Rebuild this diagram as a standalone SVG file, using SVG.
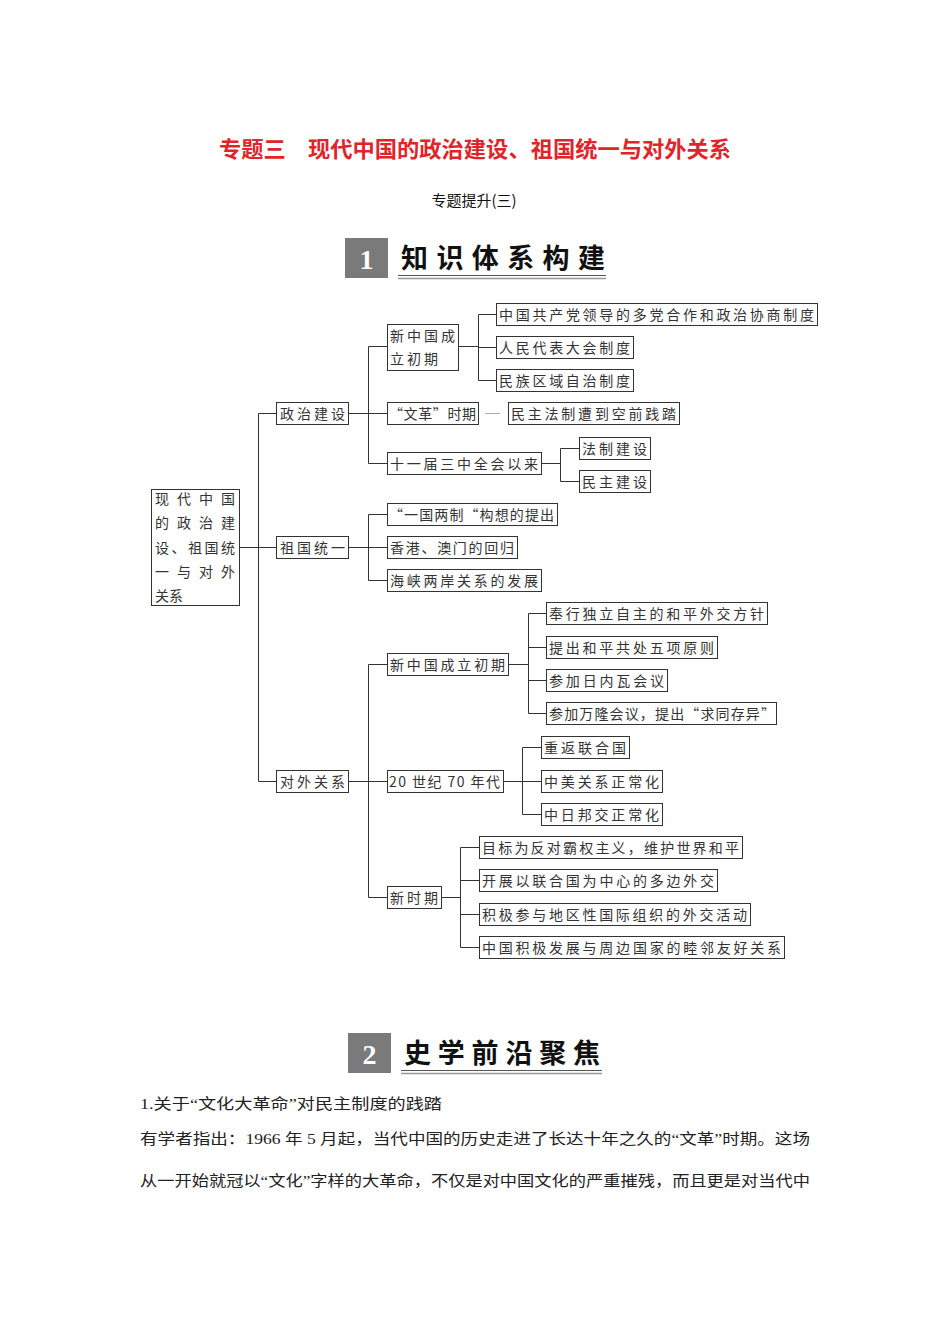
<svg xmlns="http://www.w3.org/2000/svg" width="950" height="1344" viewBox="0 0 950 1344">
<style>
.bx{fill:#fff;stroke:#333;stroke-width:1}
.t{font-family:"Noto Sans CJK SC","Liberation Serif",serif;font-size:14px;fill:#333;dominant-baseline:central}
.ln{fill:none;stroke:#333;stroke-width:1}
.ban{font-family:"Noto Sans CJK SC",sans-serif;font-size:27px;font-weight:bold;fill:#111;dominant-baseline:central}
.num{font-family:"Liberation Serif",serif;font-size:28px;font-weight:bold;fill:#fff;text-anchor:middle;dominant-baseline:central}
.body{font-family:"Liberation Serif","Noto Sans CJK SC",serif;font-size:15px;fill:#222;dominant-baseline:central}
</style>
<rect width="950" height="1344" fill="#fff"/>
<text x="475" y="147" text-anchor="middle" font-family="Noto Sans CJK SC,sans-serif" font-size="22" font-weight="bold" fill="#e0242a" dominant-baseline="central" textLength="512" lengthAdjust="spacingAndGlyphs">专题三　现代中国的政治建设、祖国统一与对外关系</text>
<text x="474" y="199" text-anchor="middle" font-family="Noto Sans CJK SC,sans-serif" font-size="15" fill="#111" dominant-baseline="central">专题提升(三)</text>
<g id="banner1">
<rect x="345" y="238" width="43" height="40" fill="#7a7a7a"/>
<text class="num" x="366.5" y="259">1</text>
<text class="ban" x="401" y="256" textLength="204" lengthAdjust="spacing">知识体系构建</text>
<line x1="398" y1="275.5" x2="606" y2="275.5" stroke="#555" stroke-width="1"/>
<line x1="398" y1="278.5" x2="606" y2="278.5" stroke="#999" stroke-width="1.5"/>
</g>
<g id="connectors">
<path class="ln" d="M239.5 547.5H258.5M258.5 413.5V781.5M258.5 413.5H276.5M258.5 547.5H276.5M258.5 781.5H276.5"/>
<path class="ln" d="M348.5 413.5H368.5M368.5 346.5V463.5M368.5 346.5H387.5M368.5 413.5H387.5M368.5 463.5H387.5"/>
<path class="ln" d="M458.5 346.5H478.5M478.5 314.5V380.5M478.5 314.5H496.5M478.5 347.5H496.5M478.5 380.5H496.5"/>
<path d="M485 413.5H500" stroke="#aaa" stroke-width="1"/>
<path class="ln" d="M541.5 463.5H560.5M560.5 448.5V481.5M560.5 448.5H579.5M560.5 481.5H579.5"/>
<path class="ln" d="M348.5 547.5H368.5M368.5 514.5V580.5M368.5 514.5H387.5M368.5 547.5H387.5M368.5 580.5H387.5"/>
<path class="ln" d="M348.5 781.5H368.5M368.5 664.5V897.5M368.5 664.5H387.5M368.5 781.5H387.5M368.5 897.5H387.5"/>
<path class="ln" d="M508.5 664.5H528.5M528.5 613.5V713.5M528.5 613.5H546.5M528.5 647.5H546.5M528.5 680.5H546.5M528.5 713.5H546.5"/>
<path class="ln" d="M503.5 781.5H522.5M522.5 747.5V814.5M522.5 747.5H541.5M522.5 781.5H541.5M522.5 814.5H541.5"/>
<path class="ln" d="M441.5 897.5H460.5M460.5 847.5V947.5M460.5 847.5H479.5M460.5 880.5H479.5M460.5 914.5H479.5M460.5 947.5H479.5"/>
</g>
<g id="root">
<rect class="bx" x="151.5" y="489.5" width="88" height="116"/>
<text class="t" x="155" y="498" textLength="80" lengthAdjust="spacing">现代中国</text>
<text class="t" x="155" y="522" textLength="80" lengthAdjust="spacing">的政治建</text>
<text class="t" x="155" y="547" textLength="80" lengthAdjust="spacing">设、祖国统</text>
<text class="t" x="155" y="571" textLength="80" lengthAdjust="spacing">一与对外</text>
<text class="t" x="155" y="595">关系</text>
</g>
<g id="n-zzjs"><rect class="bx" x="276.5" y="402.5" width="72" height="22"/><text class="t" x="280" y="413" textLength="65" lengthAdjust="spacing">政治建设</text></g>
<g id="n-zgty"><rect class="bx" x="276.5" y="536.5" width="72" height="22"/><text class="t" x="280" y="547" textLength="65" lengthAdjust="spacing">祖国统一</text></g>
<g id="n-dwgx"><rect class="bx" x="276.5" y="770.5" width="72" height="22"/><text class="t" x="280" y="781" textLength="65" lengthAdjust="spacing">对外关系</text></g>
<g id="n-xzg1"><rect class="bx" x="387.5" y="324.5" width="71" height="46"/><text class="t" x="390" y="335" textLength="65" lengthAdjust="spacing">新中国成</text><text class="t" x="390" y="358" textLength="48" lengthAdjust="spacing">立初期</text></g>
<g id="n-wg"><rect class="bx" x="387.5" y="402.5" width="91" height="22"/><text class="t" x="389" y="413" textLength="87" lengthAdjust="spacing">“文革”时期</text></g>
<g id="n-sy"><rect class="bx" x="387.5" y="452.5" width="154" height="22"/><text class="t" x="390" y="463" textLength="148" lengthAdjust="spacing">十一届三中全会以来</text></g>
<g id="n-a1"><rect class="bx" x="496.5" y="303.5" width="321" height="22"/><text class="t" x="499" y="314" textLength="315" lengthAdjust="spacing">中国共产党领导的多党合作和政治协商制度</text></g>
<g id="n-a2"><rect class="bx" x="496.5" y="336.5" width="137" height="22"/><text class="t" x="499" y="347" textLength="131" lengthAdjust="spacing">人民代表大会制度</text></g>
<g id="n-a3"><rect class="bx" x="496.5" y="369.5" width="137" height="22"/><text class="t" x="499" y="380" textLength="131" lengthAdjust="spacing">民族区域自治制度</text></g>
<g id="n-wg1"><rect class="bx" x="508.5" y="402.5" width="171" height="22"/><text class="t" x="511" y="413" textLength="165" lengthAdjust="spacing">民主法制遭到空前践踏</text></g>
<g id="n-fz"><rect class="bx" x="579.5" y="437.5" width="71" height="22"/><text class="t" x="582" y="448" textLength="65" lengthAdjust="spacing">法制建设</text></g>
<g id="n-mz"><rect class="bx" x="579.5" y="470.5" width="71" height="22"/><text class="t" x="582" y="481" textLength="65" lengthAdjust="spacing">民主建设</text></g>
<g id="n-b1"><rect class="bx" x="387.5" y="503.5" width="170" height="22"/><text class="t" x="389" y="514" textLength="165" lengthAdjust="spacing">“一国两制“构想的提出</text></g>
<g id="n-b2"><rect class="bx" x="387.5" y="536.5" width="130" height="22"/><text class="t" x="390" y="547" textLength="124" lengthAdjust="spacing">香港、澳门的回归</text></g>
<g id="n-b3"><rect class="bx" x="387.5" y="569.5" width="154" height="22"/><text class="t" x="390" y="580" textLength="148" lengthAdjust="spacing">海峡两岸关系的发展</text></g>
<g id="n-c1"><rect class="bx" x="387.5" y="653.5" width="121" height="22"/><text class="t" x="390" y="664" textLength="115" lengthAdjust="spacing">新中国成立初期</text></g>
<g id="n-c2"><rect class="bx" x="387.5" y="770.5" width="116" height="22"/><text class="t" x="389" y="781" textLength="111" lengthAdjust="spacing">20 世纪 70 年代</text></g>
<g id="n-c3"><rect class="bx" x="387.5" y="886.5" width="54" height="22"/><text class="t" x="390" y="897" textLength="48" lengthAdjust="spacing">新时期</text></g>
<g id="n-d1"><rect class="bx" x="546.5" y="602.5" width="221" height="22"/><text class="t" x="549" y="613" textLength="215" lengthAdjust="spacing">奉行独立自主的和平外交方针</text></g>
<g id="n-d2"><rect class="bx" x="546.5" y="636.5" width="171" height="22"/><text class="t" x="549" y="647" textLength="165" lengthAdjust="spacing">提出和平共处五项原则</text></g>
<g id="n-d3"><rect class="bx" x="546.5" y="669.5" width="121" height="22"/><text class="t" x="549" y="680" textLength="115" lengthAdjust="spacing">参加日内瓦会议</text></g>
<g id="n-d4"><rect class="bx" x="546.5" y="702.5" width="230" height="22"/><text class="t" x="549" y="713" textLength="226" lengthAdjust="spacing">参加万隆会议，提出“求同存异”</text></g>
<g id="n-e1"><rect class="bx" x="541.5" y="736.5" width="88" height="22"/><text class="t" x="544" y="747" textLength="82" lengthAdjust="spacing">重返联合国</text></g>
<g id="n-e2"><rect class="bx" x="541.5" y="770.5" width="121" height="22"/><text class="t" x="544" y="781" textLength="115" lengthAdjust="spacing">中美关系正常化</text></g>
<g id="n-e3"><rect class="bx" x="541.5" y="803.5" width="121" height="22"/><text class="t" x="544" y="814" textLength="115" lengthAdjust="spacing">中日邦交正常化</text></g>
<g id="n-f1"><rect class="bx" x="479.5" y="836.5" width="263" height="22"/><text class="t" x="482" y="847" textLength="257" lengthAdjust="spacing">目标为反对霸权主义，维护世界和平</text></g>
<g id="n-f2"><rect class="bx" x="479.5" y="869.5" width="238" height="22"/><text class="t" x="482" y="880" textLength="232" lengthAdjust="spacing">开展以联合国为中心的多边外交</text></g>
<g id="n-f3"><rect class="bx" x="479.5" y="903.5" width="271" height="22"/><text class="t" x="482" y="914" textLength="265" lengthAdjust="spacing">积极参与地区性国际组织的外交活动</text></g>
<g id="n-f4"><rect class="bx" x="479.5" y="936.5" width="305" height="22"/><text class="t" x="482" y="947" textLength="299" lengthAdjust="spacing">中国积极发展与周边国家的睦邻友好关系</text></g>
<g id="banner2">
<rect x="348" y="1033" width="43" height="40" fill="#7a7a7a"/>
<text class="num" x="369.5" y="1054">2</text>
<text class="ban" x="404" y="1051" textLength="196" lengthAdjust="spacing">史学前沿聚焦</text>
<line x1="401" y1="1070.5" x2="602" y2="1070.5" stroke="#555" stroke-width="1"/>
<line x1="401" y1="1073.5" x2="602" y2="1073.5" stroke="#999" stroke-width="1.5"/>
</g>
<g id="body">
<text class="body" x="140" y="1104" textLength="302" lengthAdjust="spacingAndGlyphs">1.关于“文化大革命”对民主制度的践踏</text>
<text class="body" x="140" y="1139" textLength="670" lengthAdjust="spacingAndGlyphs">有学者指出：1966 年 5 月起，当代中国的历史走进了长达十年之久的“文革”时期。这场</text>
<text class="body" x="140" y="1181" textLength="670" lengthAdjust="spacingAndGlyphs">从一开始就冠以“文化”字样的大革命，不仅是对中国文化的严重摧残，而且更是对当代中</text>
</g>
</svg>
